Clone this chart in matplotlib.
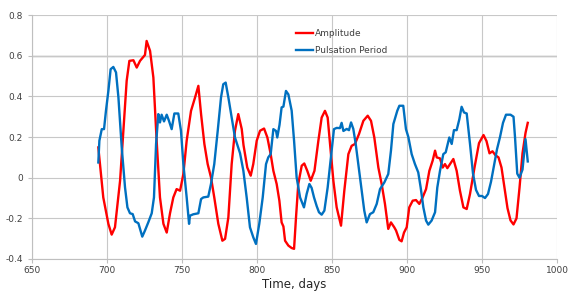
import numpy as np
import matplotlib
matplotlib.use("Agg")
import matplotlib.pyplot as plt
from matplotlib.ticker import FuncFormatter

# Amplitude (red)
amp_days = [694.2, 697.5, 700.9, 703.1, 705.3, 708.7, 710.9, 713.1, 714.9, 717.6,
            719.8, 722.0, 725.3, 726.4, 728.7, 730.9, 733.1, 735.3, 737.6, 739.8,
            742.0, 744.2, 746.4, 748.7, 750.9, 753.1, 756.0, 758.7, 760.9, 762.7,
            764.9, 767.1, 769.3, 771.5, 774.2, 776.9, 778.7, 780.9, 783.1, 785.3,
            787.5, 789.8, 791.0, 793.5, 795.8, 797.5, 799.8, 802.0, 804.7, 806.9,
            809.1, 810.9, 813.1, 814.9, 816.4, 817.6, 818.7, 820.9, 823.1, 824.7,
            826.0, 827.5, 829.8, 831.5, 833.5, 835.8, 838.3, 840.9, 843.1, 845.3,
            847.1, 848.7, 850.9, 853.1, 856.0, 858.2, 860.9, 863.1, 865.3, 868.0,
            870.9, 873.8, 876.0, 878.2, 880.9, 883.1, 885.3, 887.5, 889.3, 891.5,
            892.7, 894.9, 896.4, 898.0, 899.8, 901.5, 903.8, 906.0, 908.2, 910.4,
            912.7, 914.9, 917.1, 918.7, 919.8, 922.0, 923.8, 925.3, 926.9, 928.7,
            930.9, 933.1, 935.3, 937.6, 939.8, 942.0, 945.0, 948.0, 951.0, 953.0,
            955.0, 957.0, 959.0, 961.0, 963.0, 965.0, 967.0, 969.0, 971.0, 973.0,
            975.0, 977.0, 979.0, 980.5]
amplitude = [0.149, -0.097, -0.227, -0.28, -0.244, -0.015, 0.231, 0.477, 0.575, 0.578,
             0.542, 0.575, 0.604, 0.673, 0.624, 0.493, 0.18, -0.097, -0.227, -0.27,
             -0.175, -0.097, -0.056, -0.064, 0.018, 0.182, 0.329, 0.395, 0.452, 0.313,
             0.166, 0.067, 0.002, -0.097, -0.227, -0.31, -0.301, -0.195, 0.067, 0.231,
             0.313, 0.24, 0.16, 0.05, 0.01, 0.067, 0.182, 0.231, 0.242, 0.198,
             0.116, 0.034, -0.031, -0.113, -0.22, -0.24, -0.31, -0.334, -0.346, -0.35,
             -0.195, -0.031, 0.059, 0.07, 0.034, -0.015, 0.034, 0.182, 0.296, 0.329,
             0.296, 0.166, -0.015, -0.146, -0.236, -0.064, 0.116, 0.157, 0.166, 0.215,
             0.28, 0.305, 0.28, 0.198, 0.05, -0.031, -0.129, -0.252, -0.22, -0.244,
             -0.26, -0.306, -0.313, -0.27, -0.244, -0.146, -0.113, -0.11, -0.129, -0.097,
             -0.056, 0.034, 0.084, 0.133, 0.1, 0.095, 0.05, 0.067, 0.047, 0.067,
             0.092, 0.034, -0.064, -0.146, -0.154, -0.08, 0.05, 0.17, 0.21, 0.18,
             0.12, 0.13, 0.11, 0.10, 0.05, -0.05, -0.15, -0.21, -0.23, -0.2,
             -0.05, 0.12, 0.22, 0.27]

# Pulsation period (blue)
per_days = [694.2, 694.9, 696.5, 698.0, 699.3, 700.9, 702.4, 704.2, 706.0, 707.6,
            709.8, 712.0, 713.6, 715.3, 717.1, 718.7, 720.9, 722.0, 723.5, 725.3,
            727.5, 729.8, 731.3, 732.7, 734.2, 735.3, 736.4, 738.0, 739.8, 741.3,
            743.1, 744.9, 747.5, 749.3, 750.9, 753.1, 754.7, 755.3, 757.5, 760.9,
            762.7, 764.2, 767.5, 769.3, 771.5, 773.8, 776.0, 777.5, 779.1, 780.9,
            783.1, 785.3, 788.7, 790.9, 793.1, 795.3, 797.5, 799.3, 801.5, 803.8,
            806.0, 807.5, 809.1, 810.9, 812.7, 813.5, 815.0, 816.4, 817.6, 819.3,
            820.9, 823.1, 824.7, 826.4, 828.7, 831.3, 833.1, 834.9, 836.4, 838.0,
            839.8, 841.3, 843.1, 844.9, 847.1, 849.3, 851.3, 853.1, 855.3, 856.4,
            857.6, 859.8, 861.3, 862.7, 864.2, 865.8, 867.5, 869.8, 871.5, 873.1,
            875.3, 877.5, 879.8, 882.0, 884.9, 887.5, 889.3, 890.9, 893.5, 894.9,
            897.5, 899.3, 900.9, 903.1, 905.3, 907.5, 909.1, 910.9, 912.7, 914.2,
            916.4, 918.7, 920.2, 922.0, 924.2, 925.8, 928.2, 929.8, 931.3, 933.1,
            934.9, 936.4, 938.0, 939.8, 942.0, 944.0, 946.0, 948.0, 950.0, 952.0,
            954.0, 956.0, 958.0, 960.0, 962.0, 964.0, 966.0, 969.0, 971.0, 972.0,
            973.5, 975.0, 977.0, 979.0, 980.5]
period = [0.075, 0.182, 0.239, 0.239, 0.33, 0.427, 0.534, 0.545, 0.518, 0.395,
          0.149, -0.048, -0.146, -0.175, -0.179, -0.215, -0.224, -0.252, -0.29, -0.26,
          -0.22, -0.175, -0.097, 0.166, 0.313, 0.272, 0.31, 0.277, 0.31, 0.28,
          0.239, 0.316, 0.316, 0.231, 0.067, -0.097, -0.227, -0.187, -0.18, -0.175,
          -0.105, -0.097, -0.093, -0.031, 0.067, 0.231, 0.395, 0.46, 0.468, 0.395,
          0.296, 0.198, 0.12, 0.034, -0.097, -0.244, -0.293, -0.326, -0.227, -0.097,
          0.067, 0.1, 0.116, 0.239, 0.23, 0.198, 0.26, 0.346, 0.35, 0.427,
          0.41, 0.33, 0.182, 0.002, -0.097, -0.146, -0.08, -0.031, -0.05, -0.097,
          -0.14, -0.17, -0.182, -0.162, -0.048, 0.1, 0.239, 0.245, 0.244, 0.27,
          0.23, 0.24, 0.234, 0.272, 0.24, 0.166, 0.067, -0.064, -0.162, -0.22,
          -0.179, -0.17, -0.129, -0.056, -0.023, 0.018, 0.133, 0.264, 0.329, 0.354,
          0.354, 0.239, 0.2, 0.116, 0.067, 0.026, -0.048, -0.146, -0.211, -0.231,
          -0.211, -0.17, -0.048, 0.034, 0.116, 0.125, 0.198, 0.166, 0.234, 0.234,
          0.288, 0.349, 0.321, 0.316, 0.166, 0.02, -0.06, -0.09, -0.09, -0.1,
          -0.08, -0.02, 0.06, 0.14, 0.2, 0.27, 0.31, 0.31, 0.3, 0.2,
          0.02, 0.0, 0.04, 0.19, 0.08]

x_ticks = [650, 700, 750, 800, 850, 900, 950, 1000]
y_ticks = [-0.4, -0.2, 0, 0.2, 0.4, 0.6, 0.8]

fig = plt.figure(figsize=(5.75, 2.91), dpi=100)
ax = fig.add_axes([0.0557, 0.110, 0.913, 0.838])

ax.plot(amp_days, amplitude, color='#FF0000', linewidth=1.7, label='Amplitude')
ax.plot(per_days, period, color='#0070C0', linewidth=1.7, label='Pulsation Period')

ax.set_xlim(650, 1000)
ax.set_ylim(-0.4, 0.8)
ax.set_xticks(x_ticks)
ax.set_yticks(y_ticks)
ax.yaxis.set_major_formatter(FuncFormatter(lambda v, _: '0' if abs(v) < 1e-9 else f'{v:.1f}'))

ax.grid(True, color='#C8C8C8', linewidth=0.8)
ax.set_axisbelow(True)
# the 0.6 line looks heavier in the original
ax.axhline(0.6, color='#A8A8A8', linewidth=1.0, zorder=0.5)

for side in ['top', 'right']:
    ax.spines[side].set_visible(False)
for side in ['left', 'bottom']:
    ax.spines[side].set_color('#BFBFBF')
    ax.spines[side].set_linewidth(0.8)

ax.tick_params(axis='both', labelsize=6.5, colors='#BFBFBF', labelcolor='#404040',
               length=3, width=0.8)
ax.tick_params(axis='x', pad=2)

ax.set_xlabel('Time, days', fontsize=8.5, color='#262626', labelpad=2)

leg = ax.legend(loc='upper left', bbox_to_anchor=(0.487, 0.975), frameon=False,
                fontsize=6.5, handlelength=1.9, handletextpad=0.2, labelspacing=0.9)
for t in leg.get_texts():
    t.set_color('#404040')

fig.savefig('out.png', dpi=100)
